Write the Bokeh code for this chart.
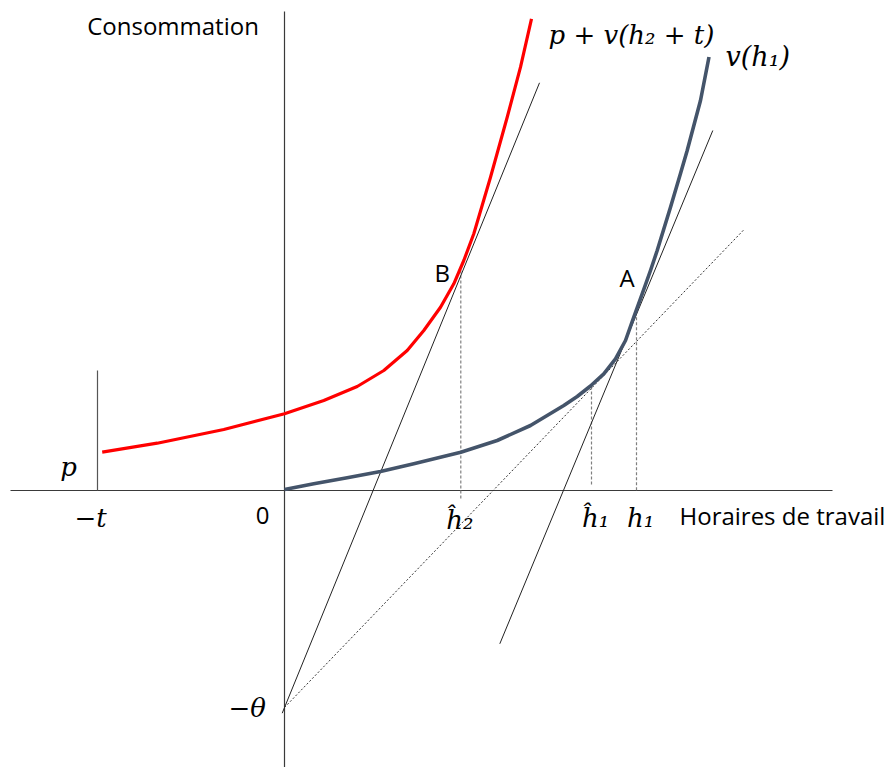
from bokeh.plotting import figure
from bokeh.models import Range1d
from bokeh.core.properties import value
from bokeh.embed import file_html
from bokeh.resources import INLINE

# ---- data (chart units: hours of work on x, consumption on y) ----
# red curve: p + v(h2 + t)
red_h = [-18.23, -12.73, -6.07, 0.0, 3.93, 7.27, 9.93, 12.27, 13.93, 15.6,
         16.93, 17.93, 18.93, 20.6, 22.27, 23.6, 24.7]
red_c = [3.83, 4.73, 6.1, 7.67, 9.0, 10.4, 12.0, 14.0, 16.0, 18.33,
         20.67, 23.0, 25.67, 31.33, 37.33, 42.33, 47.17]

# gray curve: v(h1)
gray_h = [0.0, 2.93, 6.27, 9.6, 12.93, 17.63, 21.27, 24.6, 27.93, 29.27, 30.6,
          31.93, 33.1, 34.1, 34.93, 35.77, 36.6, 37.27, 38.6, 39.6, 40.27,
          41.6, 42.45]
gray_c = [0.1, 0.67, 1.27, 1.9, 2.67, 3.83, 5.0, 6.5, 8.5, 9.4, 10.45,
          11.67, 13.17, 15.0, 17.33, 19.67, 22.0, 24.0, 28.33, 31.7, 34.0,
          39.0, 43.35]

# key values
t_val = 18.7          # -t on the horizontal axis
p_top = 12.0          # top of the vertical marker at -t
theta = 21.7          # -theta on the vertical axis
h2_hat = 17.63
h1_hat = 30.7
h1 = 35.2
B_c = 22.0
h1_hat_c = 10.4
A_c = 17.33

# straight lines (start x, start y, end x, end y)
tangent_B = [-0.23, -22.27, 25.5, 40.77]
tangent_A = [21.53, -15.33, 42.83, 36.0]
tangent_dash = [0.0, -21.7, 45.93, 26.07]

# axes extents
x_axis = [-27.4, 54.8]
y_axis = [47.9, -28.0]

# labels
lbl_y_axis = "Consommation"
lbl_x_axis = "Horaires de travail"
lbl_red = "p + v(h\u2082 + t)"
lbl_gray = "v(h\u2081)"
tick_texts = ["\u2212t", "\u0125\u2082", "\u0125\u2081", "h\u2081"]
pt_labels = ["B", "A"]

# ---- figure ----
p = figure(width=892, height=767, x_range=Range1d(-28.4, 60.8),
           y_range=Range1d(-27.7, 49.0), x_axis_type=None, y_axis_type=None,
           output_backend="svg", toolbar_location=None, min_border=0)
p.grid.visible = False
p.outline_line_color = None
p.background_fill_color = "white"

axis_col = "#3a3a3a"
# axes
p.segment(x0=[x_axis[0]], y0=[0], x1=[x_axis[1]], y1=[0], line_color=axis_col, line_width=1.2)
p.segment(x0=[0], y0=[y_axis[0]], x1=[0], y1=[y_axis[1]], line_color=axis_col, line_width=1.2)
# -t marker
p.segment(x0=[-t_val], y0=[0], x1=[-t_val], y1=[p_top], line_color="#555555", line_width=1.2)

# dashed verticals
p.segment(x0=[h2_hat, h1_hat, h1], y0=[B_c, h1_hat_c, A_c],
          x1=[h2_hat, h1_hat, h1], y1=[-0.8, 0.5, 0.0],
          line_color="#7f7f7f", line_width=1.2, line_dash="3 2")

# tangent lines
p.segment(x0=[tangent_B[0], tangent_A[0]], y0=[tangent_B[1], tangent_A[1]],
          x1=[tangent_B[2], tangent_A[2]], y1=[tangent_B[3], tangent_A[3]],
          line_color="#222222", line_width=1.0)
p.segment(x0=[tangent_dash[0]], y0=[tangent_dash[1]], x1=[tangent_dash[2]], y1=[tangent_dash[3]],
          line_color="#333333", line_width=1.0, line_dash="2 2")

# curves
p.line(red_h, red_c, line_color="#ff0000", line_width=3.2, line_join="round")
p.line(gray_h, gray_c, line_color="#44546a", line_width=3.6, line_join="round")

sans = value("Open Sans")
serif = value("DejaVu Serif")

# sans labels
p.text(x=[-19.73], y=[46.5], text=[lbl_y_axis], text_font=sans, text_font_size="24px",
       text_align="left", text_baseline="middle", text_color="black")
p.text(x=[39.5], y=[-2.5], text=[lbl_x_axis], text_font=sans, text_font_size="24px",
       text_align="left", text_baseline="middle", text_color="black")
p.text(x=[-2.2], y=[-2.5], text=["0"], text_font=sans, text_font_size="24px",
       text_align="center", text_baseline="middle", text_color="black")
p.text(x=[15.77, 34.27], y=[21.83, 21.33], text=pt_labels, text_font=sans,
       text_font_size="24px", text_align="center", text_baseline="middle", text_color="black")

# math labels
p.text(x=[26.4], y=[45.6], text=[lbl_red], text_font=serif, text_font_style="italic",
       text_font_size="26px", text_align="left", text_baseline="middle", text_color="black")
p.text(x=[44.1], y=[43.4], text=[lbl_gray], text_font=serif, text_font_style="italic",
       text_font_size="27px", text_align="left", text_baseline="middle", text_color="black")
p.text(x=[-21.6], y=[2.4], text=["p"], text_font=serif, text_font_style="italic",
       text_font_size="26px", text_align="center", text_baseline="middle", text_color="black")
p.text(x=[-t_val - 0.7, h2_hat - 0.1, h1_hat + 0.4, h1 + 0.4], y=[-2.7, -2.9, -2.7, -2.7],
       text=tick_texts, text_font=serif, text_font_style="italic",
       text_font_size="26px", text_align="center", text_baseline="middle", text_color="black")
p.text(x=[-3.73], y=[-theta], text=["\u2212\u03b8"], text_font=serif, text_font_style="italic",
       text_font_size="26px", text_align="center", text_baseline="middle", text_color="black")

open("out.html", "w").write(file_html(p, INLINE))
